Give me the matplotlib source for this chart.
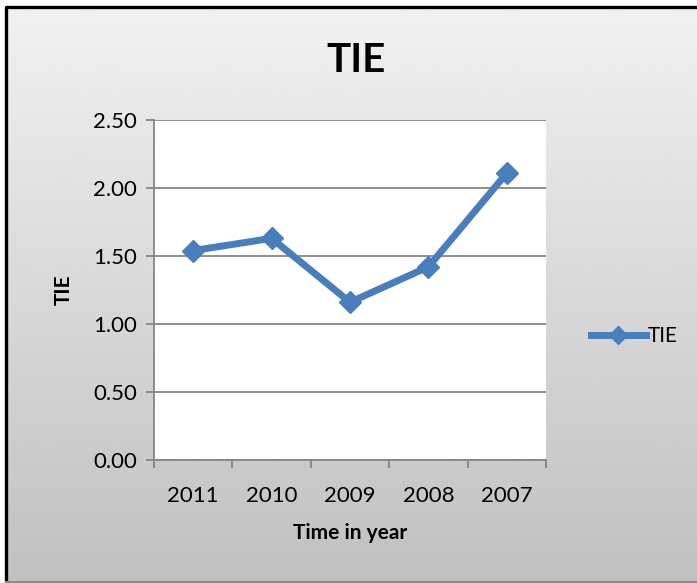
import numpy as np
import matplotlib.pyplot as plt

plt.rcParams['font.family'] = ['Lato', 'DejaVu Sans']

# TIE ratio by year
years = ['2011', '2010', '2009', '2008', '2007']
tie = [1.54, 1.63, 1.16, 1.42, 2.11]
y_ticks = [0.0, 0.5, 1.0, 1.5, 2.0, 2.5]

W, H = 697, 583
fig = plt.figure(figsize=(W / 100, H / 100), dpi=100)
fig.patch.set_facecolor('white')

# chart area with a light-to-gray vertical gradient
bg = fig.add_axes([0, 0, 1, 1], zorder=0)
bg.set_xlim(0, W)
bg.set_ylim(H, 0)
bg.axis('off')
grad = np.linspace(0.945, 0.755, 256).reshape(-1, 1)
bg.imshow(grad, cmap='gray', vmin=0, vmax=1, aspect='auto',
          extent=[6, W + 5, 582, 7], interpolation='bicubic')
bg.plot([6, 6, W + 5], [582, 7, 7], color='black', lw=2.4, solid_capstyle='butt')
bg.plot([6, W + 5], [582, 582], color='#8a8a8a', lw=1.5)

# plot area
left, right, top, bottom = 154, 546, 120, 460
ax = fig.add_axes([left / W, 1 - bottom / H, (right - left) / W, (bottom - top) / H], zorder=1)
ax.set_facecolor('white')

x = np.arange(len(years))
ax.plot(x, tie, color='#4a7ebb', lw=5, marker='D', ms=11,
        solid_joinstyle='round', label='TIE', zorder=3)

ax.set_xlim(-0.5, len(years) - 0.5)
ax.set_ylim(0, 2.5)
ax.set_yticks(y_ticks)
ax.set_yticklabels([f'{v:.2f}' for v in y_ticks], fontsize=16)
ax.set_xticks(x)
ax.set_xticklabels(years, fontsize=16)
ax.set_xticks(np.arange(-0.5, len(years)), minor=True)
ax.tick_params(axis='x', which='major', length=0, pad=19)
ax.tick_params(axis='x', which='minor', length=6, color='#868686', width=1.3)
ax.tick_params(axis='y', length=6, color='#868686', width=1.3, pad=6)

ax.grid(axis='y', color='#868686', lw=1.3)
ax.set_axisbelow(True)
for s in ['top', 'right']:
    ax.spines[s].set_visible(False)
for s in ['left', 'bottom']:
    ax.spines[s].set_color('#868686')
    ax.spines[s].set_linewidth(1.3)

ax.set_xlabel('Time in year', fontsize=15, fontweight='bold', labelpad=12)
ax.set_ylabel('TIE', fontsize=15, fontweight='bold', labelpad=14)
fig.text(356 / W, 1 - 60 / H, 'TIE', fontsize=29, fontweight='bold',
         ha='center', va='center')

fig.legend(loc='center left', bbox_to_anchor=(583 / W, 1 - 336 / H),
           frameon=False, fontsize=15, handlelength=2.6, handletextpad=0.1,
           borderaxespad=0, markerscale=0.85)

fig.savefig('out.png', dpi=100)
